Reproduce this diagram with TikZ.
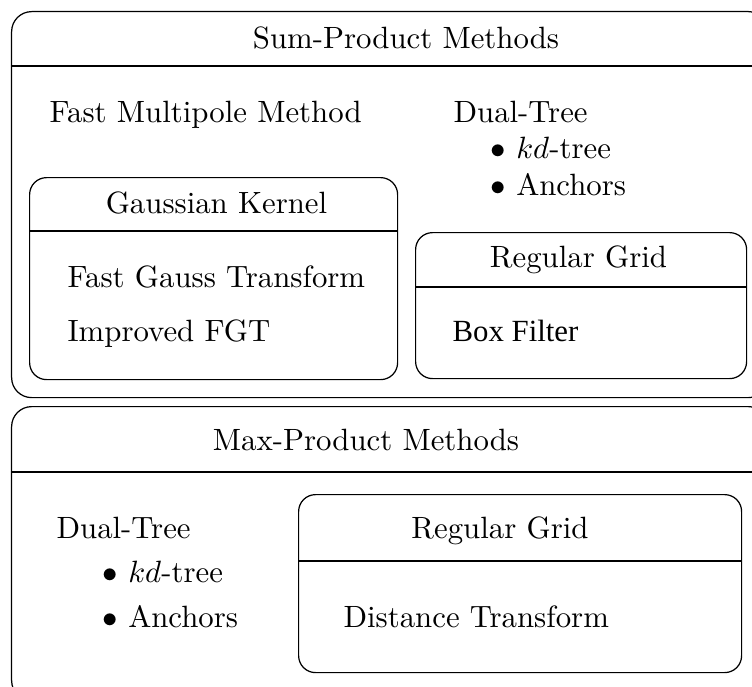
\documentclass[tikz,border=0pt]{standalone}
\usepackage{fontspec}
\newfontfamily\timesfont{Liberation Serif}
\begin{document}
\begin{tikzpicture}[x=0.3247pt, y=-0.3247pt,
  panel/.style={draw, rectangle, rounded corners=6.5pt, anchor=north west, inner sep=0pt, line width=0.4pt},
  subpanel/.style={draw, rectangle, rounded corners=5.5pt, anchor=north west, inner sep=0pt, line width=0.4pt},
  hrule/.style={line width=0.4pt},
  entry/.style={anchor=base west, inner sep=0pt},
  heading/.style={anchor=base, inner sep=0pt}]
\useasboundingbox (0,0) rectangle (752,687);
\clip (0,0) rectangle (752,687);

% ---- Sum-product panel ----
\node[panel, minimum width=757*0.3247pt, minimum height=386*0.3247pt] (sum) at (11,11) {};
\coordinate (sumhd) at (0,66);
\draw[hrule] (sum.west |- sumhd) -- (sum.east |- sumhd);
\node[heading] (sumtitle) at (406,48) {Sum-Product Methods};

\node[entry] (fmm) at (49,122) {Fast Multipole Method};
\node[entry] (sdual) at (453,122) {Dual-Tree};
\node[entry] (skd) at (490,158) {$\bullet$ $kd$-tree};
\node[entry] (sanc) at (490,195) {$\bullet$ Anchors};

% Gaussian kernel sub-panel
\node[subpanel, minimum width=368*0.3247pt, minimum height=202*0.3247pt] (gauss) at (29,177) {};
\coordinate (gausshd) at (0,231);
\draw[hrule] (gauss.west |- gausshd) -- (gauss.east |- gausshd);
\node[heading] (gausstitle) at (216.5,213) {Gaussian Kernel};
\node[entry] (fgt) at (67,287) {Fast Gauss Transform};
\node[entry] (ifgt) at (67,342) {Improved FGT};

% Regular grid sub-panel (sum-product)
\node[subpanel, minimum width=331*0.3247pt, minimum height=146*0.3247pt] (sgrid) at (415,232) {};
\coordinate (sgridhd) at (0,287);
\draw[hrule] (sgrid.west |- sgridhd) -- (sgrid.east |- sgridhd);
\node[heading] (sgridtitle) at (578.5,268) {Regular Grid};
\node[entry] (box) at (452,342) {\timesfont Box Filter};

% ---- Max-product panel ----
\node[panel, minimum width=757*0.3247pt, minimum height=294*0.3247pt] (max) at (11,406) {};
\coordinate (maxhd) at (0,472);
\draw[hrule] (max.west |- maxhd) -- (max.east |- maxhd);
\node[heading] (maxtitle) at (366,450) {Max-Product Methods};

\node[entry] (mdual) at (56,538) {Dual-Tree};
\node[entry] (mkd) at (102,582) {$\bullet$ $kd$-tree};
\node[entry] (manc) at (102,627) {$\bullet$ Anchors};

% Regular grid sub-panel (max-product)
\node[subpanel, minimum width=443*0.3247pt, minimum height=178*0.3247pt] (mgrid) at (298,494) {};
\coordinate (mgridhd) at (0,561);
\draw[hrule] (mgrid.west |- mgridhd) -- (mgrid.east |- mgridhd);
\node[heading] (mgridtitle) at (500,538) {Regular Grid};
\node[entry] (dt) at (343,627) {Distance Transform};
\end{tikzpicture}
\end{document}
